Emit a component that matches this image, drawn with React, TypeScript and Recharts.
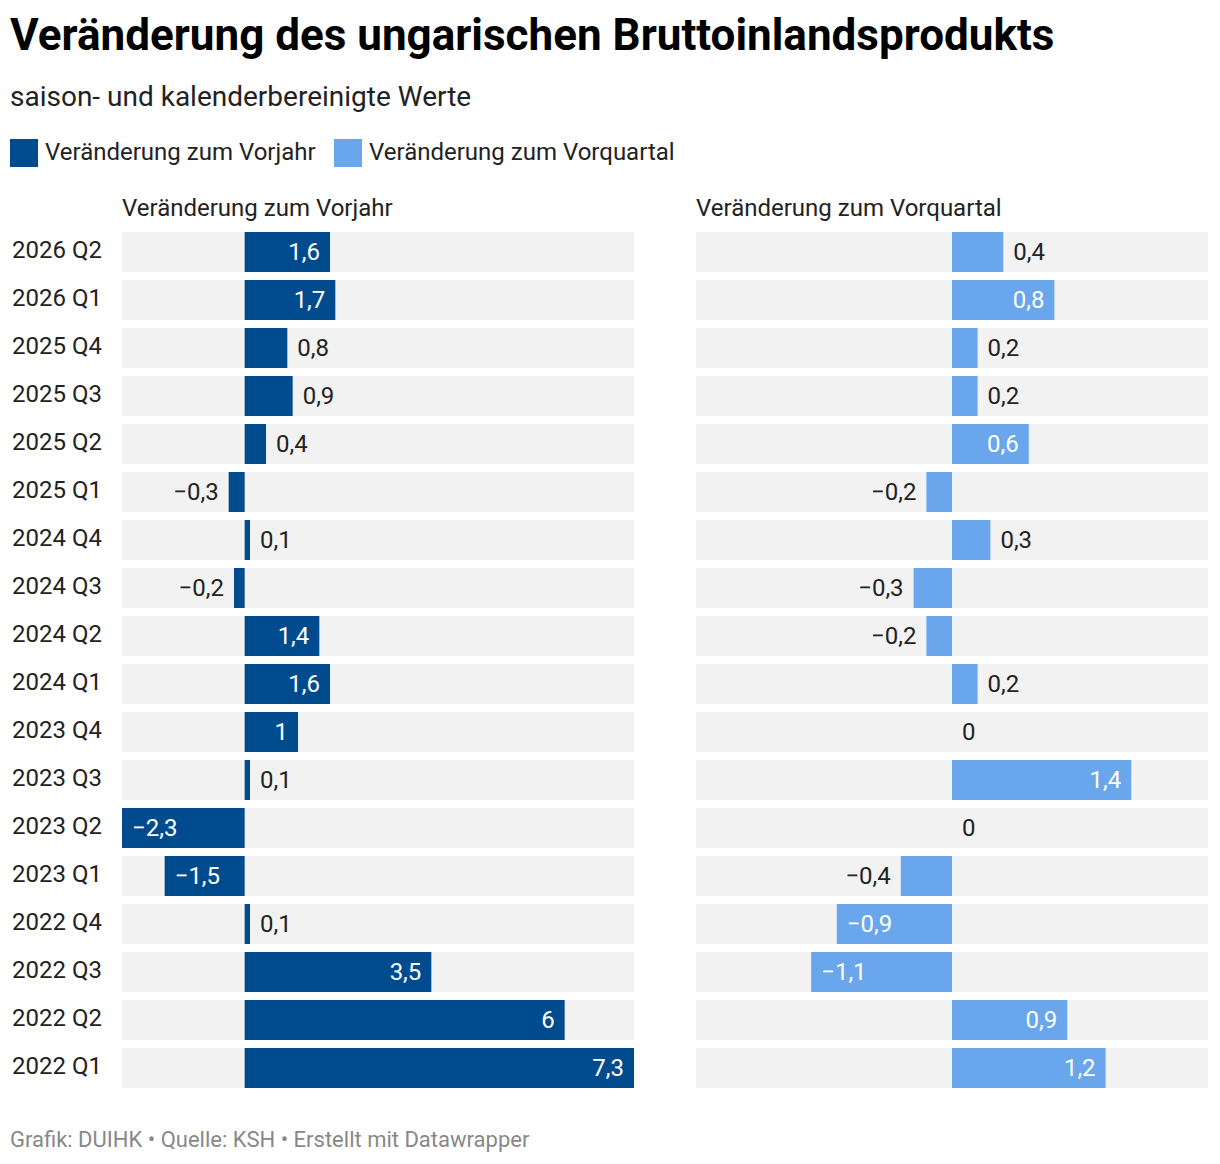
import { BarChart, Bar, XAxis, YAxis, LabelList, Cell } from 'recharts'

const quarters = [
  '2026 Q2', '2026 Q1', '2025 Q4', '2025 Q3', '2025 Q2', '2025 Q1',
  '2024 Q4', '2024 Q3', '2024 Q2', '2024 Q1', '2023 Q4', '2023 Q3',
  '2023 Q2', '2023 Q1', '2022 Q4', '2022 Q3', '2022 Q2', '2022 Q1',
]
const vorjahr = [1.6, 1.7, 0.8, 0.9, 0.4, -0.3, 0.1, -0.2, 1.4, 1.6, 1, 0.1, -2.3, -1.5, 0.1, 3.5, 6, 7.3]
const vorquartal = [0.4, 0.8, 0.2, 0.2, 0.6, -0.2, 0.3, -0.3, -0.2, 0.2, 0, 1.4, 0, -0.4, -0.9, -1.1, 0.9, 1.2]

const DARK = '#004b8d'
const LIGHT = '#6aa6ec'
const FONT = 'Roboto, sans-serif'

const rows = quarters.map((q, i) => ({ q, vj: vorjahr[i], vq: vorquartal[i] }))

const fmt = (v: number) => String(v).replace('.', ',').replace('-', '\u2212')

// rough text width for Roboto at 24px
const textWidth = (s: string) =>
  s.split('').reduce((a, c) => a + (c === ',' ? 0.22 : c === '\u2212' ? 0.57 : 0.56), 0) * 24

function ValueLabel(props: any) {
  const { x, y, width, height, value } = props
  const x0 = Number(x), x1 = Number(x) + Number(width)
  const left = Math.min(x0, x1), right = Math.max(x0, x1)
  const txt = fmt(value)
  const barPx = value === 0 ? 0 : Math.abs(right - left)
  const inside = barPx >= textWidth(txt) + 22
  const cy = Number(y) + Number(height) / 2 + 8
  let tx: number, anchor: 'start' | 'end'
  if (value >= 0) {
    const end = value === 0 ? left : right
    tx = inside ? end - 10 : end + 10
    anchor = inside ? 'end' : 'start'
  } else {
    tx = inside ? left + 10 : left - 10
    anchor = inside ? 'start' : 'end'
  }
  return (
    <text x={tx} y={cy} textAnchor={anchor} fontSize={24} fontFamily={FONT} fill={inside ? '#fff' : '#222'}>
      {txt}
    </text>
  )
}

function QuarterTick(props: any) {
  const { y, payload } = props
  return (
    <text x={4} y={y + 6} textAnchor="start" fontSize={24} fontFamily={FONT} fill="#222">
      {payload.value}
    </text>
  )
}

const txt = (top: number, left: number, size: number, extra: any = {}) => ({
  position: 'absolute' as const,
  top,
  left,
  fontSize: size,
  lineHeight: `${size}px`,
  whiteSpace: 'nowrap' as const,
  color: '#222',
  ...extra,
})

export default function App() {
  return (
    <div style={{ position: 'relative', width: 1204, height: 1145, fontFamily: FONT }}>
      <div style={txt(5, 2, 44, { fontWeight: 700, color: '#000' })}>
        Veränderung des ungarischen Bruttoinlandsprodukts
      </div>
      <div style={txt(75, 2, 28)}>saison- und kalenderbereinigte Werte</div>

      <div style={{ position: 'absolute', top: 131, left: 2, width: 28, height: 28, background: DARK }} />
      <div style={txt(132, 37, 24)}>Veränderung zum Vorjahr</div>
      <div style={{ position: 'absolute', top: 131, left: 326, width: 28, height: 28, background: LIGHT }} />
      <div style={txt(132, 361, 24)}>Veränderung zum Vorquartal</div>

      <div style={txt(188, 114, 24)}>Veränderung zum Vorjahr</div>
      <div style={txt(188, 688, 24)}>Veränderung zum Vorquartal</div>

      <div style={{ position: 'absolute', top: 220, left: 0 }}>
        <BarChart width={626} height={864} data={rows} layout="vertical" margin={{ top: 0, right: 0, bottom: 0, left: 0 }}>
          <XAxis type="number" domain={[-2.3, 7.3]} hide />
          <YAxis type="category" dataKey="q" width={114} axisLine={false} tickLine={false} tick={<QuarterTick />} interval={0} />
          <Bar dataKey="vj" fill={DARK} barSize={40} minPointSize={1} background={{ fill: '#f2f2f2' }} isAnimationActive={false}>
            {rows.map((r, i) => (
              <Cell key={`vj-${i}`} fill={r.vj === 0 ? 'transparent' : DARK} />
            ))}
            <LabelList dataKey="vj" content={<ValueLabel />} />
          </Bar>
        </BarChart>
      </div>

      <div style={{ position: 'absolute', top: 220, left: 688 }}>
        <BarChart width={512} height={864} data={rows} layout="vertical" margin={{ top: 0, right: 0, bottom: 0, left: 0 }}>
          <XAxis type="number" domain={[-2, 2]} hide />
          <YAxis type="category" dataKey="q" hide />
          <Bar dataKey="vq" fill={LIGHT} barSize={40} minPointSize={1} background={{ fill: '#f2f2f2' }} isAnimationActive={false}>
            {rows.map((r, i) => (
              <Cell key={`vq-${i}`} fill={r.vq === 0 ? 'transparent' : LIGHT} />
            ))}
            <LabelList dataKey="vq" content={<ValueLabel />} />
          </Bar>
        </BarChart>
      </div>

      <div style={txt(1121, 2, 22, { color: '#888' })}>
        Grafik: DUIHK • Quelle: KSH • Erstellt mit Datawrapper
      </div>
    </div>
  )
}
